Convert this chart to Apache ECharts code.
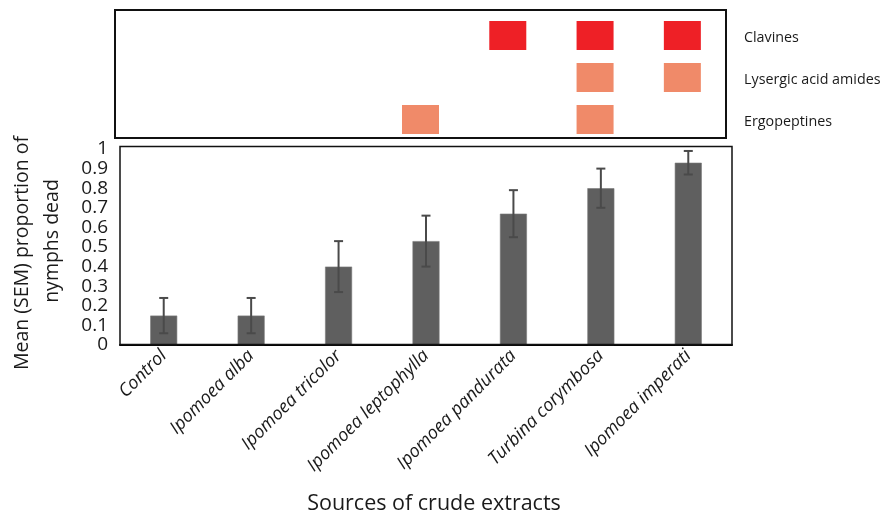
<!DOCTYPE html>
<html>
<head>
<meta charset="utf-8">
<script src="https://cdn.jsdelivr.net/npm/echarts@6/dist/echarts.min.js"></script>
<style>
  html, body { margin: 0; padding: 0; background: #fff; }
  #chart { width: 881px; height: 516px; }
</style>
</head>
<body>
<div id="chart"></div>
<script>
// Plant sources tested
const sources = ['Control', 'Ipomoea alba', 'Ipomoea tricolor', 'Ipomoea leptophylla',
                 'Ipomoea pandurata', 'Turbina corymbosa', 'Ipomoea imperati'];

// Mean proportion of nymphs dead and its standard error
const meanDead = [0.15, 0.15, 0.40, 0.53, 0.67, 0.80, 0.93];
const semDead  = [0.09, 0.09, 0.13, 0.13, 0.12, 0.10, 0.06];

// Alkaloid classes detected per source (1 = present)
const alkaloidClasses = ['Ergopeptines', 'Lysergic acid amides', 'Clavines'];
const clavines     = [0, 0, 0, 0, 1, 1, 1];
const lysergic     = [0, 0, 0, 0, 0, 1, 1];
const ergopeptines = [0, 0, 0, 1, 0, 1, 0];

// Y tick values
const yTicks = [0, 0.1, 0.2, 0.3, 0.4, 0.5, 0.6, 0.7, 0.8, 0.9, 1];

const RED = '#EE2026';
const SALMON = '#F08A69';
const FONT = '"Open Sans", sans-serif';

function presenceCells(row, className) {
  const out = [];
  row.forEach((v, i) => { if (v) out.push([sources[i], className]); });
  return out;
}

const chart = echarts.init(document.getElementById('chart'), null, { renderer: 'canvas' });

const staticGraphics = [
  // frame around the alkaloid panel
  { type: 'rect', shape: { x: 115, y: 10, width: 611, height: 128 },
    style: { fill: 'none', stroke: '#111', lineWidth: 2 }, z: 10 },
  // frame around the mortality panel
  { type: 'rect', shape: { x: 120, y: 146.5, width: 612, height: 198 },
    style: { fill: 'none', stroke: '#111', lineWidth: 1.5 }, z: 10 },
  // Y axis title (two lines)
  { type: 'text', x: 22, y: 253, rotation: Math.PI / 2,
    style: { text: 'Mean (SEM) proportion of', font: '19.5px ' + FONT, fill: '#1a1a1a',
             textAlign: 'center', textVerticalAlign: 'middle' } },
  { type: 'text', x: 52, y: 241, rotation: Math.PI / 2,
    style: { text: 'nymphs dead', font: '19.5px ' + FONT, fill: '#1a1a1a',
             textAlign: 'center', textVerticalAlign: 'middle' } },
  // X axis title
  { type: 'text', x: 434, y: 504,
    style: { text: 'Sources of crude extracts', font: '21.5px ' + FONT, fill: '#1a1a1a',
             textAlign: 'center', textVerticalAlign: 'middle' } }
];

chart.setOption({
  backgroundColor: '#ffffff',
  animation: false,
  textStyle: { fontFamily: FONT },
  grid: [
    { left: 115, width: 611, top: 14.5, height: 126 },
    { left: 120, width: 612, top: 149, height: 196 }
  ],
  xAxis: [
    {
      gridIndex: 0, type: 'category', data: sources,
      axisLine: { show: false }, axisTick: { show: false }, axisLabel: { show: false }
    },
    {
      gridIndex: 1, type: 'category', data: sources,
      axisLine: { show: true, lineStyle: { color: '#000', width: 2.2 } },
      axisTick: { show: false },
      axisLabel: {
        rotate: 45, interval: 0, margin: 8,
        fontFamily: FONT, fontStyle: 'italic', fontSize: 18, color: '#1a1a1a'
      }
    }
  ],
  yAxis: [
    {
      gridIndex: 0, type: 'category', data: alkaloidClasses, position: 'right',
      axisLine: { show: false }, axisTick: { show: false }, axisLabel: { show: false }
    },
    {
      gridIndex: 1, type: 'value', min: 0, max: 1, interval: 0.1,
      axisLine: { show: false }, axisTick: { show: false }, splitLine: { show: false },
      axisLabel: {
        margin: 12, fontFamily: FONT, fontSize: 19, color: '#1a1a1a',
        formatter: v => {
          const t = yTicks.find(k => Math.abs(k - v) < 1e-6);
          return t === undefined ? '' : String(t);
        }
      }
    }
  ],
  graphic: staticGraphics,
  series: [
    {
      type: 'scatter', xAxisIndex: 0, yAxisIndex: 0,
      symbol: 'rect', symbolSize: [37, 29],
      itemStyle: { color: RED, opacity: 1 },
      data: presenceCells(clavines, 'Clavines')
    },
    {
      type: 'scatter', xAxisIndex: 0, yAxisIndex: 0,
      symbol: 'rect', symbolSize: [37, 29],
      itemStyle: { color: SALMON, opacity: 1 },
      data: presenceCells(lysergic, 'Lysergic acid amides')
    },
    {
      type: 'scatter', xAxisIndex: 0, yAxisIndex: 0,
      symbol: 'rect', symbolSize: [37, 29],
      itemStyle: { color: SALMON, opacity: 1 },
      data: presenceCells(ergopeptines, 'Ergopeptines')
    },
    {
      type: 'bar', xAxisIndex: 1, yAxisIndex: 1,
      data: meanDead, barWidth: 27,
      itemStyle: { color: '#5F5F5F', borderColor: '#7a7a7a', borderWidth: 0.6 }
    },
    {
      // SEM error bars
      type: 'custom', xAxisIndex: 1, yAxisIndex: 1, z: 5,
      data: meanDead.map((m, i) => [i, m - semDead[i], m + semDead[i]]),
      renderItem: (params, api) => {
        const lo = api.coord([api.value(0), api.value(1)]);
        const hi = api.coord([api.value(0), api.value(2)]);
        const cap = 4.5;
        const st = { stroke: '#4a4a4a', lineWidth: 2 };
        return {
          type: 'group',
          children: [
            { type: 'line', shape: { x1: lo[0], y1: lo[1], x2: hi[0], y2: hi[1] }, style: st },
            { type: 'line', shape: { x1: hi[0] - cap, y1: hi[1], x2: hi[0] + cap, y2: hi[1] }, style: st },
            { type: 'line', shape: { x1: lo[0] - cap, y1: lo[1], x2: lo[0] + cap, y2: lo[1] }, style: st }
          ]
        };
      }
    }
  ]
});

// Row labels of the alkaloid panel, placed at each category row of its y axis
const rowLabels = alkaloidClasses.map(name => {
  const y = chart.convertToPixel({ yAxisIndex: 0 }, name);
  return {
    type: 'text', x: 744, y: y + 2.5,
    style: { text: name, font: '14.3px ' + FONT, fill: '#1a1a1a',
             textAlign: 'left', textVerticalAlign: 'middle' }
  };
});
chart.setOption({ graphic: staticGraphics.concat(rowLabels) });
</script>
</body>
</html>
